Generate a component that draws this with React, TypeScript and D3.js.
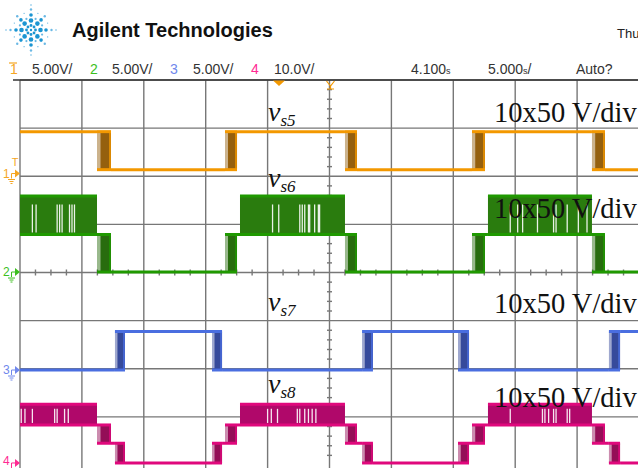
import React from 'react';
import * as d3 from 'd3';

const W = 638;
const H = 468;

// Time base: 5 s/div, 10 divisions, delay 4.100 s at screen centre
const timeDomain: [number, number] = [-20.9, 29.1];
const timePerDiv = 5;
const delay = 4.1;

// Channel settings
const channelIds = ['1', '2', '3', '4'];
const channelScaleText = ['5.00V/', '5.00V/', '5.00V/', '10.0V/'];
const voltsPerDiv = [5, 5, 5, 10];
const groundDiv = [2.057, 0.01, -2.026, -3.958];
const traceNames = ['s5', 's6', 's7', 's8'];
const probeText = ['10x50 V/div', '10x50 V/div', '10x50 V/div', '10x50 V/div'];
const timeStatus = ['4.100', '5.000'];

// Segment: [t start (s), t end (s), lower V, upper V, kind]
// kind L = steady level, E = switching edge burst, P = PWM burst
type Seg = [number, number, number, number, 'L' | 'E' | 'P'];

const vs5Segments: Seg[] = [
  [-20.9, -14.68, 4.35, 4.35, 'L'],
  [-14.68, -13.55, 0.4, 4.35, 'E'],
  [-13.55, -4.34, 0.4, 0.4, 'L'],
  [-4.34, -3.37, 0.4, 4.35, 'E'],
  [-3.37, 5.35, 4.35, 4.35, 'L'],
  [5.35, 6.32, 0.4, 4.35, 'E'],
  [6.32, 15.61, 0.4, 0.4, 'L'],
  [15.61, 16.66, 0.4, 4.35, 'E'],
  [16.66, 25.3, 4.35, 4.35, 'L'],
  [25.3, 26.35, 0.4, 4.35, 'E'],
  [26.35, 29.1, 0.4, 0.4, 'L'],
];

const vs6Segments: Seg[] = [
  [-20.9, -14.68, 3.9, 7.9, 'P'],
  [-14.68, -13.55, 0, 3.9, 'E'],
  [-13.55, -4.34, 0, 0, 'L'],
  [-4.34, -3.37, 0, 3.9, 'E'],
  [-3.37, -3.13, 3.9, 3.9, 'L'],
  [-3.13, 5.35, 3.9, 7.9, 'P'],
  [5.35, 6.32, 0, 3.9, 'E'],
  [6.32, 15.61, 0, 0, 'L'],
  [15.61, 16.66, 0, 3.9, 'E'],
  [16.66, 16.9, 3.9, 3.9, 'L'],
  [16.9, 25.3, 3.9, 7.9, 'P'],
  [25.3, 26.35, 0, 3.9, 'E'],
  [26.35, 29.1, 0, 0, 'L'],
];

const vs7Segments: Seg[] = [
  [-20.9, -13.23, 0, 0, 'L'],
  [-13.23, -12.42, 0, 4, 'E'],
  [-12.42, -5.39, 4, 4, 'L'],
  [-5.39, -4.58, 0, 4, 'E'],
  [-4.58, 6.73, 0, 0, 'L'],
  [6.73, 7.61, 0, 4, 'E'],
  [7.61, 14.48, 4, 4, 'L'],
  [14.48, 15.37, 0, 4, 'E'],
  [15.37, 26.67, 0, 0, 'L'],
  [26.67, 27.57, 0, 4, 'E'],
  [27.57, 29.1, 4, 4, 'L'],
];

const vs8Segments: Seg[] = [
  [-20.9, -14.68, 7.9, 12.2, 'P'],
  [-14.68, -13.55, 4.1, 7.9, 'E'],
  [-13.55, -13.23, 4.1, 4.1, 'L'],
  [-13.23, -12.42, 0, 4.1, 'E'],
  [-12.42, -5.39, 0, 0, 'L'],
  [-5.39, -4.58, 0, 4.1, 'E'],
  [-4.58, -4.34, 4.1, 4.1, 'L'],
  [-4.34, -3.37, 4.1, 7.9, 'E'],
  [-3.37, -3.13, 7.9, 7.9, 'L'],
  [-3.13, 5.35, 7.9, 12.2, 'P'],
  [5.35, 6.32, 4.1, 7.9, 'E'],
  [6.32, 6.73, 4.1, 4.1, 'L'],
  [6.73, 7.61, 0, 4.1, 'E'],
  [7.61, 14.48, 0, 0, 'L'],
  [14.48, 15.37, 0, 4.1, 'E'],
  [15.37, 15.61, 4.1, 4.1, 'L'],
  [15.61, 16.66, 4.1, 7.9, 'E'],
  [16.66, 16.9, 7.9, 7.9, 'L'],
  [16.9, 25.3, 7.9, 12.2, 'P'],
  [25.3, 26.35, 4.1, 7.9, 'E'],
  [26.35, 26.67, 4.1, 4.1, 'L'],
  [26.67, 27.57, 0, 4.1, 'E'],
  [27.57, 29.1, 0, 0, 'L'],
];

// Instants (s) where the PWM bursts leave short gaps
const vs6Gaps = [-19.9, -19.6, -17.9, -17.7, -17.5, -16.9, -16.7, -16.5, -0.5, 0.0, 1.7, 1.9, 2.1, 2.4, 2.5, 2.9, 3.2, 3.3, 18.7, 19.3, 19.7, 20.9, 22.2, 22.4, 23.3, 24.2, 24.9];
const vs8Gaps = [-20.8, -20.5, -19.9, -18.1, -17.9, -17.3, -17.0, -0.9, -0.6, -0.1, 1.5, 1.7, 2.1, 2.4, 2.7, 3.0, 18.7, 21.3, 21.5, 21.8, 22.2, 22.4, 23.3, 23.5];

const segmentsByChannel = [vs5Segments, vs6Segments, vs7Segments, vs8Segments];
const gapsByChannel = [[], vs6Gaps, [], vs8Gaps];

// Styling
const traceColor = ['#f39800', '#1f9900', '#4a6ee0', '#e0087c'];
const edgeColor = ['#8f5600', '#1c6400', '#2a3f95', '#8e004e'];
const pwmColor = ['#f39800', '#2a7c0e', '#4a6ee0', '#b0086a'];
const markerColor = ['#f5a623', '#3cbf1e', '#7088ec', '#ff2a93'];
const labelPos = [
  { x: 268, y: 121 },
  { x: 268, y: 187 },
  { x: 268, y: 311 },
  { x: 268, y: 393 },
];
const probePos = [122, 218, 313, 407];

const plot = { left: 20, right: 639, top: 80, bottom: 465 };

const x = d3.scaleLinear().domain(timeDomain).range([plot.left, plot.right]);
const yDiv = d3.scaleLinear().domain([-4, 4]).range([plot.bottom, plot.top]);
const yFor = (ch: number) => (v: number) => yDiv(groundDiv[ch] + v / voltsPerDiv[ch]);

function Trace({ ch }: { ch: number }) {
  const y = yFor(ch);
  const segs = segmentsByChannel[ch];
  const gaps = gapsByChannel[ch] as number[];
  const sw = 3;
  const items: React.ReactNode[] = [];
  segs.forEach((s, i) => {
    const [t0, t1, lo, hi, kind] = s;
    const x0 = x(t0);
    const x1 = x(t1);
    const yLo = y(lo);
    const yHi = y(hi);
    if (kind === 'L') {
      items.push(<line key={`l${i}`} x1={x0} x2={x1} y1={yLo} y2={yLo} stroke={traceColor[ch]} strokeWidth={sw} />);
    } else if (kind === 'E') {
      const w = x1 - x0;
      items.push(
        <g key={`e${i}`}>
          <rect x={x0} y={yHi} width={w} height={yLo - yHi} fill={edgeColor[ch]} opacity={0.45} />
          <rect x={x0 + w * 0.25} y={yHi} width={w * 0.75} height={yLo - yHi} fill={edgeColor[ch]} opacity={0.9} />
          <line x1={x1 - 1} x2={x1 - 1} y1={yHi} y2={yLo} stroke={traceColor[ch]} strokeWidth={1.5} />
          <line x1={x0} x2={x1} y1={yHi} y2={yHi} stroke={traceColor[ch]} strokeWidth={sw} />
          <line x1={x0} x2={x1} y1={yLo} y2={yLo} stroke={traceColor[ch]} strokeWidth={sw} />
        </g>
      );
    } else {
      const inGaps = gaps.filter((g) => g > t0 && g < t1);
      const h = yLo - yHi;
      items.push(
        <g key={`p${i}`}>
          <rect x={x0} y={yHi} width={x1 - x0} height={h} fill={pwmColor[ch]} />
          {inGaps.map((g, j) => (
            <line key={j} x1={x(g)} x2={x(g)} y1={yHi + h * 0.22} y2={yLo - 2} stroke="#ffffff" strokeWidth={1.3} opacity={0.9} />
          ))}
          <line x1={x0} x2={x1} y1={yHi} y2={yHi} stroke={traceColor[ch]} strokeWidth={sw} />
          <line x1={x0} x2={x1} y1={yLo} y2={yLo} stroke={traceColor[ch]} strokeWidth={sw} />
        </g>
      );
    }
  });
  return <g>{items}</g>;
}

function GroundMarker({ ch }: { ch: number }) {
  const gy = yDiv(groundDiv[ch]);
  const c = markerColor[ch];
  const baseline = Math.min(gy + 4, H - 3);
  return (
    <g>
      <text x={3} y={baseline} fontSize={12} fill={c} fontFamily="'Liberation Sans', Arial, sans-serif">{channelIds[ch]}</text>
      <path d={`M11.5,${gy + 5} V${gy} H15`} fill="none" stroke={c} strokeWidth={1} />
      <path d={`M15,${gy - 4} L20,${gy} L15,${gy + 4} Z`} fill={c} />
      <path d={`M8,${gy + 6} H15 M9.5,${gy + 8} H13.5 M10.5,${gy + 10} H12.5`} stroke={c} strokeWidth={1} />
    </g>
  );
}

function Logo() {
  const cx = 31;
  const cy = 30;
  const dots: React.ReactNode[] = [];
  for (let k = 0; k < 8; k++) {
    const a = (k * Math.PI) / 4;
    const radii = [4.5, 9.5, 15, 20.5, 25];
    const sizes = [1.4, 2.3, 1.8, 1.2, 0.8];
    radii.forEach((r, i) => {
      if (k % 2 === 1 && i === 4) return;
      const rr = k % 2 === 1 ? r * 0.95 : r;
      dots.push(
        <circle key={`${k}-${i}`} cx={cx + rr * Math.cos(a)} cy={cy + rr * Math.sin(a)} r={sizes[i]} fill={i < 3 ? '#1b95d2' : '#6ab8e4'} />
      );
    });
    const b = a + Math.PI / 8;
    [12, 18].forEach((r, i) => {
      dots.push(<circle key={`m${k}-${i}`} cx={cx + r * Math.cos(b)} cy={cy + r * Math.sin(b)} r={i === 0 ? 1.1 : 0.7} fill="#6ab8e4" />);
    });
  }
  dots.push(<circle key="c" cx={cx} cy={cy} r={1.2} fill="#1b95d2" />);
  return <g>{dots}</g>;
}

export default function App() {
  const xTicks = d3.range(0, 11).map((i) => timeDomain[0] + i * timePerDiv);
  const centerX = x(delay);
  const centerY = yDiv(0);
  const minorY = d3.range(-40, 41, 2).filter((v) => v % 10 !== 0).map((v) => v / 10);
  const minorX = d3.range(0, 41).filter((i) => i % 4 !== 0).map((i) => timeDomain[0] + (i * timePerDiv) / 4);
  const statusFont = "'Liberation Sans', Arial, sans-serif";

  return (
    <svg width={W} height={H} style={{ position: 'absolute', left: 0, top: 0, background: '#fff' }}>
      <defs>
        <clipPath id="plotClip">
          <rect x={plot.left} y={plot.top} width={W - plot.left} height={H - plot.top} />
        </clipPath>
      </defs>
      <rect x={0} y={0} width={W} height={H} fill="#fff" />

      {/* Header */}
      <Logo />
      <text x={72} y={37} fontSize={20} fontWeight="bold" fill="#111" fontFamily={statusFont}>Agilent Technologies</text>
      <text x={617} y={38} fontSize={13} fill="#222" fontFamily={statusFont}>Thu</text>

      {/* Channel status row */}
      <g fontFamily={statusFont} fontSize={14}>
        {channelIds.map((id, i) => {
          const xs = [10, 90, 170, 251][i];
          const xv = [32, 112, 193, 274][i];
          return (
            <g key={id}>
              <text x={xs} y={74} fill={markerColor[i]}>{id}</text>
              {i === 0 && <line x1={9} x2={17} y1={63} y2={63} stroke={markerColor[0]} strokeWidth={1.2} />}
              <text x={xv} y={74} fill="#333">{channelScaleText[i]}</text>
            </g>
          );
        })}
        <text x={411} y={74} fill="#333">{timeStatus[0]}<tspan fontSize={9}>s</tspan></text>
        <text x={488} y={74} fill="#333">{timeStatus[1]}<tspan fontSize={9}>s</tspan>/</text>
        <text x={576} y={74} fill="#333">Auto?</text>
      </g>

      {/* Graticule */}
      <g stroke="#777" strokeWidth={1.4}>
        {xTicks.map((t, i) => (
          <line key={`v${i}`} x1={x(t)} x2={x(t)} y1={plot.top} y2={plot.bottom + 3} />
        ))}
        {d3.range(-3, 5).map((d) => (
          <line key={`h${d}`} x1={plot.left} x2={W} y1={yDiv(d)} y2={yDiv(d)} />
        ))}
        {minorY.map((d, i) => (
          <line key={`my${i}`} x1={centerX - 2.5} x2={centerX + 2.5} y1={yDiv(d)} y2={yDiv(d)} />
        ))}
        {minorX.map((t, i) => (
          <line key={`mx${i}`} x1={x(t)} x2={x(t)} y1={centerY - 3} y2={centerY + 3} />
        ))}
      </g>
      <line x1={13} x2={W} y1={plot.top} y2={plot.top} stroke="#333" strokeWidth={1.5} />

      {/* Top markers: trigger position and delay reference */}
      <path d="M273,80.5 L285,80.5 L279,86 Z" fill="#f39800" />
      <path d="M326.5,81 L330.5,86 L334.5,81 M330.5,86 V89 M327,89 H334" fill="none" stroke="#f39800" strokeWidth={1.2} />

      {/* Waveforms */}
      <g clipPath="url(#plotClip)">
        {[0, 1, 2, 3].map((ch) => (
          <Trace key={ch} ch={ch} />
        ))}
      </g>

      {/* Ground reference markers and trigger level */}
      {[0, 1, 2, 3].map((ch) => (
        <GroundMarker key={ch} ch={ch} />
      ))}
      <text x={15} y={166} fontSize={11} textAnchor="middle" fill={markerColor[0]} fontFamily={statusFont}>T</text>

      {/* Trace names and probe scale notes */}
      <g fontFamily="'Liberation Serif', 'Times New Roman', serif" fill="#111">
        {traceNames.map((n, i) => (
          <text key={n} x={labelPos[i].x} y={labelPos[i].y} fontSize={28} fontStyle="italic">
            v<tspan fontSize={17} dy={5}>{n}</tspan>
          </text>
        ))}
        {probeText.map((p, i) => (
          <text key={i} x={494} y={probePos[i]} fontSize={28.5}>{p}</text>
        ))}
      </g>
    </svg>
  );
}
